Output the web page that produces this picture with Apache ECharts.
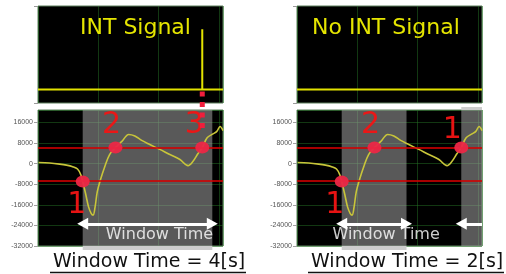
<!DOCTYPE html>
<html>
<head>
<meta charset="utf-8">
<script src="https://cdn.jsdelivr.net/npm/echarts@6/dist/echarts.min.js"></script>
<style>
html, body { margin: 0; padding: 0; background: #fff; }
#chart { width: 506px; height: 274px; }
</style>
</head>
<body>
<div id="chart"></div>
<script>
// 信号曲线 (时间 s, 原始值)
var curveTime = [0.02, 0.36, 0.67, 0.88, 1.07, 1.22, 1.32, 1.38, 1.47, 1.56, 1.64, 1.70, 1.76, 1.83, 1.93, 2.06, 2.21, 2.39, 2.59, 2.80, 2.99, 3.20, 3.45, 3.76, 4.07, 4.38, 4.63, 4.78, 4.94, 5.07, 5.22, 5.40, 5.52, 5.62, 5.71];
var curveValue = [390, 200, -200, -600, -1200, -2100, -4300, -7000, -11700, -16800, -19300, -20000, -17000, -10900, -6200, -1200, 3500, 6200, 8600, 11300, 10700, 9000, 7400, 5500, 3500, 1600, -800, 800, 3900, 6200, 10000, 11500, 12500, 14400, 12800];
var xMax = 5.71;

// 阈值线
var thresholds = [6200, -6600];

// INT 信号 (上面的小图)
var intTime = [0, 5.07, 5.07, 5.07, 5.71];
var intLevel = [0.14, 0.14, 0.76, 0.14, 0.14];
var noIntTime = [0, 5.71];
var noIntLevel = [0.14, 0.14];

// 触发点
var leftPointTime = [1.38, 2.39, 5.07];
var leftPointValue = [-7000, 6200, 6200];
var leftPointLabel = ['1', '2', '3'];
var rightPointTime = [1.38, 2.39, 5.07];
var rightPointValue = [-7000, 6200, 6200];
var rightPointLabel = ['1', '2', '1'];

// 窗口 [开始, 结束]
var leftWindows = [[1.38, 5.38]];
var rightWindows = [[1.38, 3.38], [5.07, 7.07]];

var yTicks = [16000, 8000, 0, -8000, -16000, -24000, -32000];
var panelTitles = ['INT Signal', 'No INT Signal'];
var captions = ['Window Time = 4[s]', 'Window Time = 2[s]'];
var windowText = 'Window Time';

// 样式
var arrowLevel = -23400;
var windowTextLevel = -27700;
var windowTextShift = 0.37;
var leftLabelOffsets = [[-6, 24], [-4, -22], [-8, -22]];
var rightLabelOffsets = [[-7, 24], [-4, -22], [-9, -17]];

var gridLine = { lineStyle: { color: 'rgba(40,125,40,0.45)', width: 1 } };
var font = 'DejaVu Sans';

function zip(a, b) {
	return a.map(function(v, i) { return [v, b[i]]; });
}

var chart = echarts.init(document.getElementById('chart'), null, { renderer: 'canvas' });

var grids = [
	{ left: 38, top: 6, width: 185, height: 97 },
	{ left: 38, top: 110, width: 185, height: 136 },
	{ left: 297, top: 6, width: 185, height: 97 },
	{ left: 297, top: 110, width: 185, height: 136 }
].map(function(g) {
	return Object.assign({ show: true, backgroundColor: '#000', borderColor: '#5d7f5d', borderWidth: 1 }, g);
});

var xAxes = grids.map(function(g, i) {
	return {
		type: 'value', gridIndex: i, min: 0, max: xMax, interval: 1.86,
		axisLine: { show: false }, axisTick: { show: false }, axisLabel: { show: false },
		splitLine: Object.assign({ show: true }, gridLine)
	};
});

var yAxes = grids.map(function(g, i) {
	if (i % 2 === 0) {
		return {
			type: 'value', gridIndex: i, min: 0, max: 1, interval: 1,
			axisLine: { show: false },
			axisTick: { show: true, length: 4, lineStyle: { color: '#9a9a9a' } },
			axisLabel: { show: false }, splitLine: { show: false }
		};
	}
	return {
		type: 'value', gridIndex: i, min: -32000, max: 20800, interval: 8000,
		axisLine: { show: false },
		axisTick: { show: true, length: 4, lineStyle: { color: '#a0a0a0' } },
		axisLabel: {
			fontSize: 7, fontFamily: 'Liberation Sans', color: '#555', margin: 5, showMaxLabel: false,
			formatter: function(v) { return yTicks.indexOf(v) >= 0 ? String(v) : ''; }
		},
		splitLine: Object.assign({ show: true }, gridLine)
	};
});

function bottomPanel(axisIdx, windows, pTime, pValue, pLabel, offsets) {
	var arrows = windows.map(function(w, k) {
		var end = Math.min(w[1], xMax);
		return [
			{ coord: [w[0], arrowLevel], symbol: 'triangle', symbolSize: [12, 11] },
			{ coord: [end, arrowLevel], symbol: w[1] > xMax ? 'none' : 'triangle', symbolSize: [12, 11] }
		];
	});
	var lines = thresholds.map(function(v) {
		return { yAxis: v, lineStyle: { color: 'rgba(210,0,0,0.8)', width: 2, type: 'solid' } };
	}).concat(arrows.map(function(a) {
		a[0].lineStyle = { color: '#fff', width: 3, type: 'solid' };
		return a;
	}));
	return [
		{
			type: 'line', xAxisIndex: axisIdx, yAxisIndex: axisIdx, z: 1,
			data: [], silent: true,
			markArea: {
				silent: true,
				itemStyle: { color: 'rgba(165,165,165,0.54)' },
				data: windows.map(function(w) { return [{ xAxis: w[0] }, { xAxis: Math.min(w[1], xMax) }]; })
			}
		},
		{
			type: 'line', xAxisIndex: axisIdx, yAxisIndex: axisIdx, z: 3,
			data: zip(curveTime, curveValue), showSymbol: false, smooth: 0.35,
			lineStyle: { color: '#c8c53a', width: 1.6 },
			markLine: {
				silent: true, symbol: 'none', label: { show: false },
				data: lines
			}
		},
		{
			type: 'scatter', xAxisIndex: axisIdx, yAxisIndex: axisIdx, z: 8,
			symbol: 'circle', symbolSize: [14, 12],
			itemStyle: { color: '#ec2746', opacity: 0.95 },
			data: pTime.map(function(t, k) {
				return {
					value: [t, pValue[k]],
					label: {
						show: true, formatter: pLabel[k], position: 'inside', offset: offsets[k],
						color: '#f21414', fontSize: 30, fontFamily: font
					}
				};
			})
		},
		{
			type: 'scatter', xAxisIndex: axisIdx, yAxisIndex: axisIdx, z: 8,
			symbolSize: 0,
			label: { show: true, position: 'inside', formatter: windowText, color: '#fff', fontSize: 16, fontFamily: font },
			data: [[(windows[0][0] + windows[0][1]) / 2 + windowTextShift, windowTextLevel]]
		}
	];
}

var series = [
	{
		type: 'line', xAxisIndex: 0, yAxisIndex: 0, data: zip(intTime, intLevel),
		showSymbol: false, lineStyle: { color: '#e2e200', width: 2 }
	}
].concat(bottomPanel(1, leftWindows, leftPointTime, leftPointValue, leftPointLabel, leftLabelOffsets))
 .concat([{
		type: 'line', xAxisIndex: 2, yAxisIndex: 2, data: zip(noIntTime, noIntLevel),
		showSymbol: false, lineStyle: { color: '#e2e200', width: 2 }
	}])
 .concat(bottomPanel(3, rightWindows, rightPointTime, rightPointValue, rightPointLabel, rightLabelOffsets));

chart.setOption({
	animation: false,
	grid: grids,
	xAxis: xAxes,
	yAxis: yAxes,
	series: series
});

// 覆盖文字和虚线
var pTop = chart.convertToPixel({ xAxisIndex: 0, yAxisIndex: 0 }, [intTime[1], intLevel[0]]);
var pBot = chart.convertToPixel({ xAxisIndex: 1, yAxisIndex: 1 }, [leftPointTime[2], 11800]);

function title(text, x) {
	return { type: 'text', x: x, y: 28, z: 50, style: { text: text, fill: '#e5e500', font: '22px "DejaVu Sans"', verticalAlign: 'middle' } };
}
function caption(text, x, x0, x1) {
	return [
		{ type: 'text', x: x, y: 262, z: 50, style: { text: text, fill: '#111', font: '19px "DejaVu Sans"', verticalAlign: 'middle' } },
		{ type: 'line', z: 50, shape: { x1: x0, y1: 272.5, x2: x1, y2: 272.5 }, style: { stroke: '#111', lineWidth: 1.5 } }
	];
}
// 窗口在图框外的浅灰边
function band(axisIdx, w, y0, y1) {
	var a = chart.convertToPixel({ xAxisIndex: axisIdx, yAxisIndex: axisIdx }, [w[0], 0]);
	var b = chart.convertToPixel({ xAxisIndex: axisIdx, yAxisIndex: axisIdx }, [Math.min(w[1], xMax), 0]);
	return { type: 'rect', z: 0, shape: { x: a[0], y: y0, width: b[0] - a[0], height: y1 - y0 }, style: { fill: '#cdcdcd' } };
}

chart.setOption({
	graphic: [
		title(panelTitles[0], 80),
		title(panelTitles[1], 312),
		band(1, leftWindows[0], 246, 250),
		band(3, rightWindows[0], 246, 250),
		band(3, rightWindows[1], 107, 110),
		{
			type: 'line', z: 40,
			shape: { x1: pTop[0], y1: pTop[1] + 2, x2: pBot[0], y2: pBot[1] },
			style: { stroke: '#f01e3c', lineWidth: 5, lineDash: [5, 5.5] }
		}
	].concat(caption(captions[0], 53, 50, 246)).concat(caption(captions[1], 311, 308, 504))
});
</script>
</body>
</html>
